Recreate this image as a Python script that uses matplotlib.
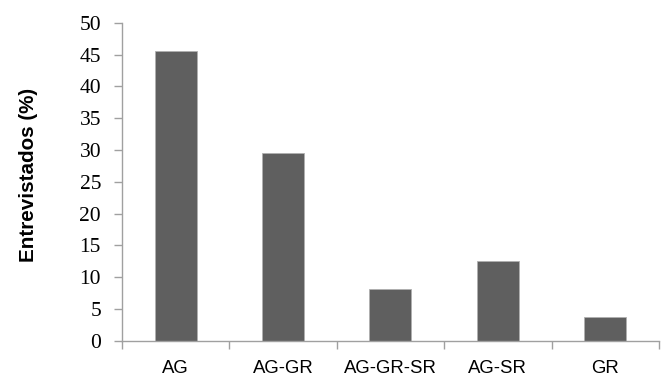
import matplotlib
matplotlib.use("Agg")
import matplotlib.pyplot as plt
import numpy as np

categories = ["AG", "AG-GR", "AG-GR-SR", "AG-SR", "GR"]
values = [45.6, 29.5, 8.1, 12.5, 3.8]
y_ticks = [0, 5, 10, 15, 20, 25, 30, 35, 40, 45, 50]

fig = plt.figure(figsize=(6.66, 3.82), dpi=100, facecolor="white")
ax = fig.add_axes([0.183, 0.108, 0.8065, 0.832])

x = np.arange(len(categories))
ax.bar(x, values, width=0.39, color="#5f5f5f", edgecolor="#b0b0b0", linewidth=0.6)

ax.set_xlim(-0.5, len(categories) - 0.5)
ax.set_ylim(0, 50)
ax.set_yticks(y_ticks)
ax.set_yticklabels([str(t) for t in y_ticks], family="Liberation Serif", fontsize=15.5)

# category labels centred, tick marks on boundaries
ax.set_xticks(x)
ax.set_xticklabels(categories, family="Liberation Sans", fontsize=13.4)
ax.tick_params(axis="x", length=0, pad=14)
ax.set_xticks(np.arange(-0.5, len(categories)), minor=True)
ax.tick_params(axis="x", which="minor", length=6, color="#a0a0a0", width=1)
ax.tick_params(axis="y", length=6, color="#a0a0a0", width=1, pad=9)

for side in ["top", "right"]:
    ax.spines[side].set_visible(False)
for side in ["left", "bottom"]:
    ax.spines[side].set_color("#a0a0a0")
    ax.spines[side].set_linewidth(1)

ax.set_ylabel("Entrevistados (%)", family="Liberation Sans", fontsize=14.9,
              fontweight="bold")
ax.yaxis.set_label_coords(-0.157, 0.522)

fig.savefig("out.png", dpi=100, facecolor="white")
